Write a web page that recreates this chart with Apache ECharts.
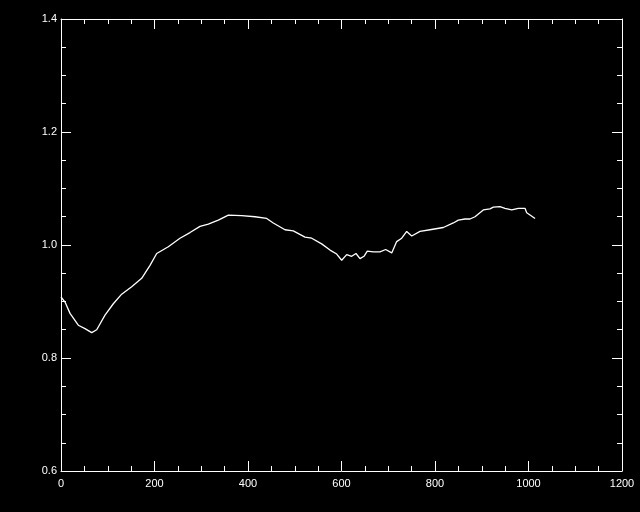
<!DOCTYPE html>
<html><head><meta charset="utf-8">
<script src="https://cdn.jsdelivr.net/npm/echarts@6/dist/echarts.min.js"></script>
<style>html,body{margin:0;padding:0;background:#000;}#c{width:640px;height:512px;}</style>
</head><body><div id="c"></div>
<script>
var xValues = [0, 8.6, 19.3, 37, 51.3, 65.7, 76.4, 94.1, 111.9, 129.8, 151.2, 172.6, 190.4, 204.7, 229.5, 254.5, 275.9, 297.3, 315.1, 336.5, 357.9, 386.5, 415, 440, 454.1, 479.1, 496.9, 521.9, 536.3, 557.6, 575.4, 589.7, 600.4, 611.1, 621.8, 631, 639.6, 648.1, 655.2, 668, 682.3, 694.5, 707.4, 718, 728.8, 739.5, 750.2, 767.9, 789.3, 817.8, 839.2, 849.9, 864.2, 874.9, 885.6, 903.3, 917.6, 924.7, 939, 949.7, 964.1, 978.2, 992.5, 996.2, 1003.3, 1014];
var yValues = [0.908, 0.899, 0.879, 0.858, 0.852, 0.845, 0.850, 0.876, 0.896, 0.913, 0.926, 0.941, 0.964, 0.985, 0.997, 1.012, 1.022, 1.033, 1.037, 1.044, 1.053, 1.052, 1.050, 1.047, 1.039, 1.027, 1.025, 1.014, 1.012, 1.002, 0.991, 0.984, 0.973, 0.983, 0.980, 0.985, 0.976, 0.980, 0.989, 0.988, 0.988, 0.992, 0.986, 1.006, 1.012, 1.024, 1.016, 1.024, 1.027, 1.031, 1.039, 1.044, 1.046, 1.046, 1.050, 1.062, 1.064, 1.067, 1.068, 1.065, 1.062, 1.065, 1.065, 1.057, 1.053, 1.047];
var xTicks = [0, 200, 400, 600, 800, 1000, 1200];
var yTicks = [0.6, 0.8, 1.0, 1.2, 1.4];

var data = xValues.map(function (x, i) { return [x, yValues[i]]; });
var white = '#ffffff';
var font = 'Liberation Sans';
function xAxisDef(pos, showLabel) {
  return {
    type: 'value', position: pos, min: xTicks[0], max: xTicks[xTicks.length - 1], interval: 200,
    axisLine: { show: true, onZero: false, lineStyle: { color: white, width: 1 } },
    axisTick: { show: true, inside: true, length: 10, lineStyle: { color: white } },
    minorTick: { show: true, splitNumber: 4, length: 5, lineStyle: { color: white } },
    splitLine: { show: false },
    axisLabel: { show: showLabel, color: white, fontFamily: font, fontSize: 11, margin: 7,
      formatter: function (v) { return String(v); } }
  };
}
function yAxisDef(pos, showLabel) {
  return {
    type: 'value', position: pos, min: yTicks[0], max: yTicks[yTicks.length - 1], interval: 0.2,
    axisLine: { show: true, onZero: false, lineStyle: { color: white, width: 1 } },
    axisTick: { show: true, inside: true, length: 10, lineStyle: { color: white } },
    minorTick: { show: true, splitNumber: 4, length: 5, lineStyle: { color: white } },
    splitLine: { show: false },
    axisLabel: { show: showLabel, color: white, fontFamily: font, fontSize: 11, margin: 4,
      formatter: function (v) { return v.toFixed(1); } }
  };
}
var chart = echarts.init(document.getElementById('c'), null, { renderer: 'canvas' });
chart.setOption({
  backgroundColor: '#000000',
  animation: false,
  grid: { left: 61, right: 18, top: 19, bottom: 41, containLabel: false },
  xAxis: [xAxisDef('bottom', true), xAxisDef('top', false)],
  yAxis: [yAxisDef('left', true), yAxisDef('right', false)],
  series: [{
    type: 'line', data: data, xAxisIndex: 0, yAxisIndex: 0,
    showSymbol: false, symbol: 'none',
    lineStyle: { color: white, width: 1.3 }
  }]
});
</script>
</body></html>
